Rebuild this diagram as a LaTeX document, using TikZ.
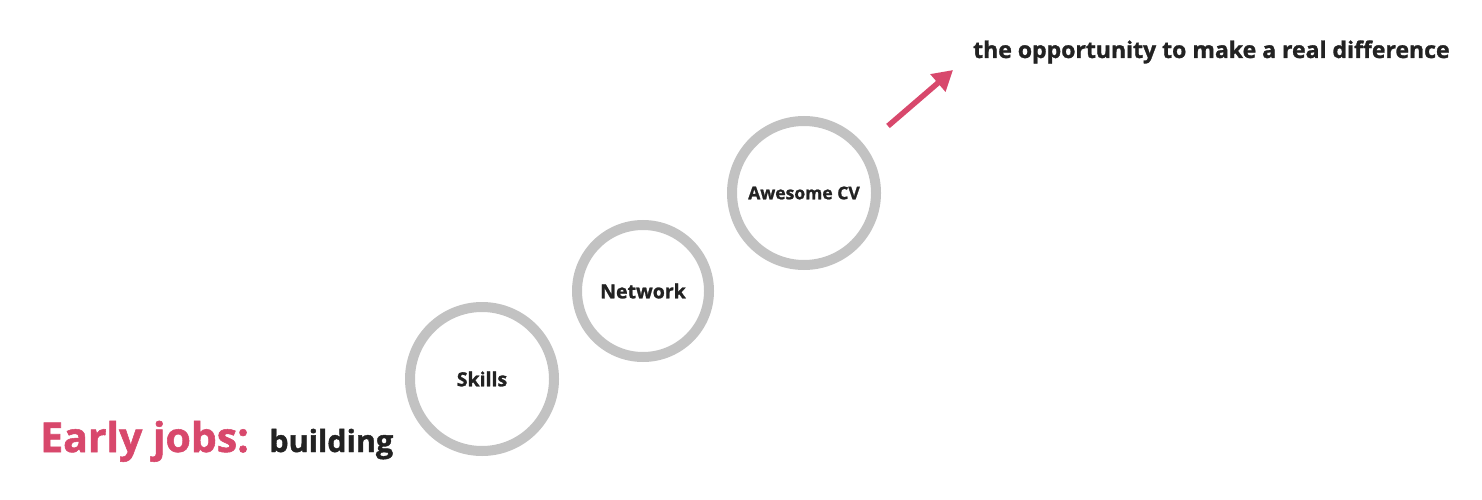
\documentclass[tikz,border=0pt]{standalone}
\usepackage{fontspec}
\setmainfont{Open Sans}[BoldFeatures={FakeBold=1.3}]
\usepackage{tikz}
\usetikzlibrary{arrows.meta,positioning}
\definecolor{rosered}{HTML}{D8486C}
\definecolor{ringgrey}{HTML}{C2C2C2}
\definecolor{inkdark}{HTML}{222222}

\begin{document}
\begin{tikzpicture}[
			x=1pt,y=-1pt,
			ring/.style={circle,draw=ringgrey,line width=10pt,minimum size=144pt,inner sep=0pt,text=inkdark,font=\fontsize{19.5}{22}\selectfont\bfseries},
			lbl/.style={text=inkdark,inner sep=0pt,font=\fontsize{23}{26}\selectfont\bfseries},
			arr/.style={-{Triangle[length=20pt,width=22pt]},line width=5.5pt,rosered}
			]
			\useasboundingbox (0,0) rectangle (1482,500);
			\node[ring] (skills) at (482,379) {Skills};
			\node[ring,minimum size=132pt] (network) at (643,291) {Network};
			\node[ring,font=\fontsize{17.5}{20}\selectfont\bfseries] (cv) at (804,193) {Awesome CV};
			\node[text=rosered,inner sep=0pt,anchor=base west,font=\fontsize{41}{44}\selectfont\bfseries] (early) at (40,452) {Early jobs:};
			\node[lbl,font=\fontsize{30.5}{34}\selectfont\bfseries] (build) [right=20pt of early.base east,anchor=base west] {building};
			\node[lbl,anchor=base west] (goal) at (973,58) {the opportunity to make a real difference};
			\coordinate (tail) at (888,126);
			\coordinate (tip) at (953,70);
			\draw[arr] (tail) -- (tip);
		\end{tikzpicture}
\end{document}
